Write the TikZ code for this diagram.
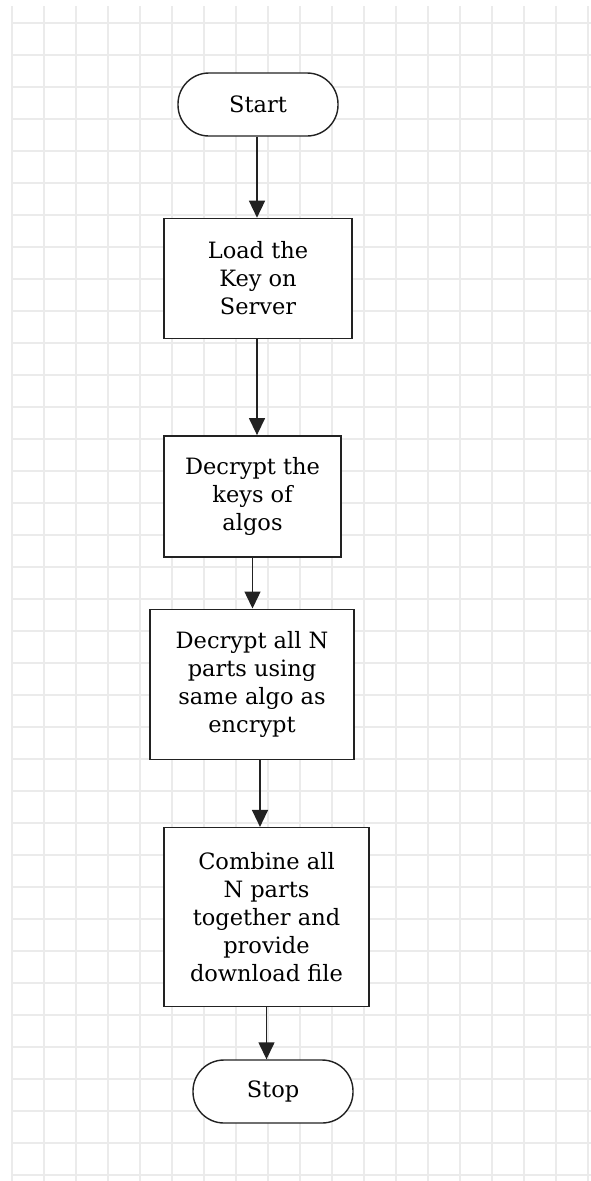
\documentclass[tikz,border=0pt]{standalone}
\usepackage{fontspec}
\setmainfont{DejaVu Serif}
\usetikzlibrary{positioning, arrows.meta}
\definecolor{gridgray}{HTML}{EBEBEB}
\definecolor{linegray}{HTML}{222222}
\tikzstyle{startstop} = [rectangle, rounded corners=31pt, minimum width=160pt, minimum height=63pt, text centered, draw=linegray, line width=1.4pt, fill=white]
\tikzstyle{process} = [rectangle, align=center, draw=linegray, line width=1.4pt, fill=white, inner sep=0pt]
\tikzstyle{arrow} = [line width=1.4pt, draw=linegray, ->, >={Triangle[width=16pt,length=17pt]}]
\tikzstyle{gridline} = [draw=gridgray, line width=1.2pt]

\begin{document}
\begin{tikzpicture}[font=\fontsize{22.5}{28}\selectfont, text=black]
        \useasboundingbox [fill=white] (0,0) rectangle (591pt,-1181pt);
        % background grid
        \foreach \k in {0,...,18}
            \draw [gridline] (12pt+\k*32pt,-6pt) -- (12pt+\k*32pt,-1181pt);
        \foreach \k in {0,...,36}
            \draw [gridline] (12pt,-23pt-\k*32pt) -- (591pt,-23pt-\k*32pt);

        \node (start) [startstop] at (258pt,-104.5pt) {Start};

        \node (loadkey) [process, minimum width=188pt, minimum height=120pt, below=81pt of start] {Load the\\Key on\\Server};
        \node (decryptkeys) [process, minimum width=177pt, minimum height=121pt, below=96pt of loadkey, xshift=-5.5pt] {Decrypt the\\keys of\\algos};
        \node (decryptparts) [process, minimum width=204pt, minimum height=150pt, below=51pt of decryptkeys, xshift=-0.5pt] {Decrypt all N\\parts using\\same algo as\\encrypt};
        \node (combine) [process, minimum width=205pt, minimum height=179pt, below=67pt of decryptparts, xshift=14.5pt] {Combine all\\N parts\\together and\\provide\\download file};

        \node (stop) [startstop, below=52pt of combine, xshift=6.5pt] {Stop};

        \draw [arrow] ([xshift=-1pt]start.south) -- ([xshift=-1pt]start.south |- loadkey.north);
        \draw [arrow] ([xshift=-1pt]loadkey.south) -- ([xshift=-1pt]loadkey.south |- decryptkeys.north);
        \draw [arrow] (decryptkeys.south) -- (decryptkeys.south |- decryptparts.north);
        \draw [arrow] ([xshift=8pt]decryptparts.south) -- ([xshift=8pt]decryptparts.south |- combine.north);
        \draw [arrow] (combine.south) -- (combine.south |- stop.north);
    \end{tikzpicture}
\end{document}
